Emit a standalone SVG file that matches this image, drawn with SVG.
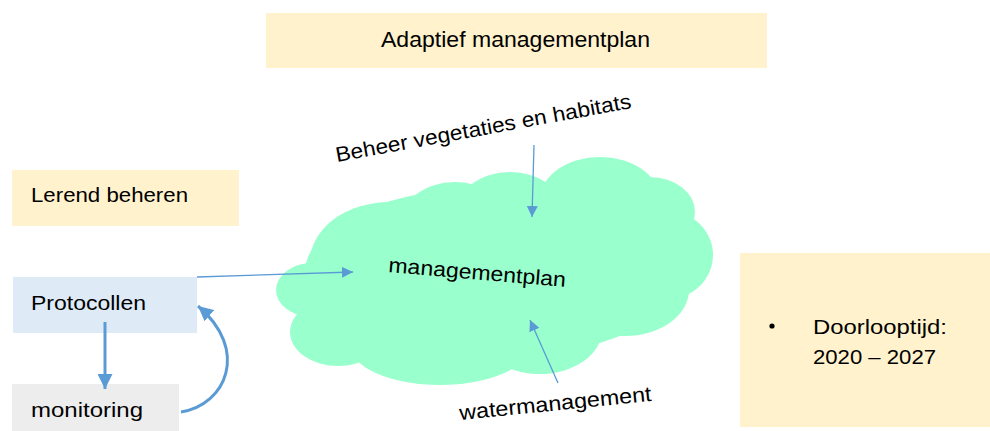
<svg xmlns="http://www.w3.org/2000/svg" width="990" height="431" viewBox="0 0 990 431">
<style>
text{font-family:"Liberation Sans",Arial,sans-serif;fill:#000;}
.t20{font-size:20px;}
.box-y{fill:#FFF2CC;}
.cl{fill:#99FFCC;}
.thin{stroke:#5B9BD5;stroke-width:1.3;fill:none;}
.thick{stroke:#5B9BD5;stroke-width:3;fill:none;}
</style>
<defs>
<marker id="ah" viewBox="0 0 10 10" refX="10" refY="5" markerWidth="11" markerHeight="11" markerUnits="userSpaceOnUse" orient="auto"><path d="M0,0 L10,5 L0,10 z" fill="#5B9BD5"/></marker>
<marker id="ah2" viewBox="0 0 10 10" refX="10" refY="5" markerWidth="5" markerHeight="5" orient="auto"><path d="M0,0 L10,5 L0,10 z" fill="#5B9BD5"/></marker>
</defs>
<rect width="990" height="431" fill="#fff"/>
<g id="title">
<rect class="box-y" x="266" y="13" width="501" height="55"/>
<text x="381" y="47" font-size="22" textLength="269" lengthAdjust="spacingAndGlyphs">Adaptief managementplan</text>
</g>
<g id="lerend">
<rect class="box-y" x="12" y="170" width="227" height="56"/>
<text class="t20" x="31" y="202" textLength="157" lengthAdjust="spacingAndGlyphs">Lerend beheren</text>
</g>
<g id="protocollen">
<rect x="13" y="277" width="184" height="56" fill="#DEEBF7"/>
<text class="t20" x="31" y="310" textLength="115" lengthAdjust="spacingAndGlyphs">Protocollen</text>
</g>
<g id="monitoring">
<rect x="12" y="384" width="167" height="47" fill="#EDEDED"/>
<text class="t20" x="31" y="417" textLength="112" lengthAdjust="spacingAndGlyphs">monitoring</text>
</g>
<g id="doorlooptijd">
<rect class="box-y" x="740" y="253" width="250" height="174"/>
<circle cx="772" cy="326" r="2.6" fill="#000"/>
<text class="t20" x="813" y="334" textLength="134" lengthAdjust="spacingAndGlyphs">Doorlooptijd:</text>
<text class="t20" x="813" y="364" textLength="123" lengthAdjust="spacingAndGlyphs">2020 – 2027</text>
</g>
<g id="cloud">
<ellipse class="cl" cx="495" cy="272" rx="190" ry="85"/>
<ellipse class="cl" cx="390" cy="262" rx="80" ry="60"/>
<ellipse class="cl" cx="312" cy="290" rx="36" ry="27"/>
<ellipse class="cl" cx="338" cy="332" rx="48" ry="34"/>
<ellipse class="cl" cx="440" cy="345" rx="90" ry="40"/>
<ellipse class="cl" cx="540" cy="330" rx="62" ry="44"/>
<ellipse class="cl" cx="625" cy="290" rx="64" ry="46"/>
<ellipse class="cl" cx="665" cy="255" rx="48" ry="45"/>
<ellipse class="cl" cx="650" cy="212" rx="45" ry="35"/>
<ellipse class="cl" cx="600" cy="200" rx="60" ry="43"/>
<ellipse class="cl" cx="510" cy="215" rx="55" ry="43"/>
<ellipse class="cl" cx="455" cy="225" rx="55" ry="43"/>
<text x="388" y="272" font-size="21" textLength="178" lengthAdjust="spacingAndGlyphs" transform="rotate(4.8 388 272)">managementplan</text>
</g>
<g id="beheer">
<text x="337" y="162" font-size="21" textLength="300" lengthAdjust="spacingAndGlyphs" transform="rotate(-10.4 337 162)">Beheer vegetaties en habitats</text>
</g>
<g id="water">
<text x="460" y="420" font-size="21" textLength="193" lengthAdjust="spacingAndGlyphs" transform="rotate(-5.7 460 420)">watermanagement</text>
</g>
<g id="connectors">
<path class="thin" d="M197,277 L353,272" marker-end="url(#ah)"/>
<path class="thin" d="M534,145 L532,217" marker-end="url(#ah)"/>
<path class="thin" d="M558,383 L530,320" marker-end="url(#ah)"/>
<path class="thick" d="M105,322 L105,389" marker-end="url(#ah2)"/>
<path class="thick" d="M181,412 C226,405 250,350 198,306" marker-end="url(#ah2)"/>
</g>
</svg>
